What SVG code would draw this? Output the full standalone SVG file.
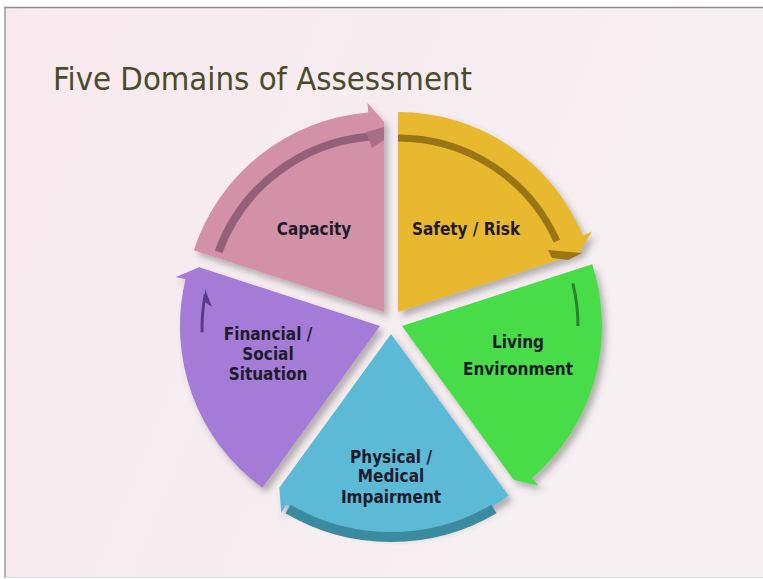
<svg xmlns="http://www.w3.org/2000/svg" width="763" height="579" viewBox="0 0 763 579">
<defs>
<linearGradient id="bg" x1="0" y1="0" x2="1" y2="0.3">
<stop offset="0" stop-color="#F8E9EE"/>
<stop offset="0.6" stop-color="#F6EDF0"/>
<stop offset="1" stop-color="#F7F1F3"/>
</linearGradient>
<filter id="sh" x="-10%" y="-10%" width="130%" height="130%">
<feDropShadow dx="4" dy="5" stdDeviation="3" flood-color="#4a4a4a" flood-opacity="0.38"/>
</filter>
<style>
.lbl{font-family:"DejaVu Sans Condensed","DejaVu Sans",sans-serif;font-stretch:condensed;font-weight:bold;font-size:17px;fill:#1E1B2C;text-anchor:middle}
.ttl{font-family:"DejaVu Sans Condensed","DejaVu Sans",sans-serif;font-stretch:condensed;font-size:32.6px;fill:#4A4A2C}
.seg{filter:url(#sh)}
.str{fill:none;stroke-linecap:butt}
</style>
</defs>
<rect x="0" y="0" width="763" height="579" fill="#FFFFFF"/>
<rect x="5" y="7" width="758" height="571" fill="url(#bg)"/>
<line x1="4" y1="7.5" x2="763" y2="7.5" stroke="#8E8E8E" stroke-width="1.5"/>
<line x1="5" y1="7" x2="5" y2="578" stroke="#9A9A9A" stroke-width="1.5"/>
<line x1="5" y1="577.5" x2="763" y2="577.5" stroke="#E2DADD" stroke-width="1"/>

<text class="ttl" x="53" y="90">Five Domains of Assessment</text>

<g id="capacity">
<path class="seg" d="M384,312 L193.8,250.2 A200,200 0 0 1 368.3,112.6 L367.5,102.7 L384,122 Z" fill="#D391A8"/>
<path class="str" d="M218.6,251.8 A176,176 0 0 1 368.7,136.7" stroke="#93607A" stroke-width="8"/>
<polygon points="366,132 384,127 384,140 372,148" fill="#A86E85"/>
<text class="lbl" x="314" y="235">Capacity</text>
</g>

<g id="safety">
<path class="seg" d="M398,312 L398,112 A200,200 0 0 1 582.8,235.5 L592,231.6 L578.7,253.3 Z" fill="#E8B82F"/>
<path class="str" d="M398,138 A174,174 0 0 1 556.9,241.2" stroke="#9A7514" stroke-width="7"/>
<polygon points="548,250 582,253 568,260 552,258" fill="#9A7514"/>
<text class="lbl" x="466" y="235">Safety / Risk</text>
</g>

<g id="living">
<path class="seg" d="M402,326 L592.2,264.2 A200,200 0 0 1 531.9,478.1 L538.4,485.7 L513.7,479.7 Z" fill="#4ADC48"/>
<path class="str" d="M572.8,283.4 A176,176 0 0 1 578,326" stroke="#2E7F2E" stroke-width="3"/>
<text class="lbl" x="518" y="348">Living</text>
<text class="lbl" x="518" y="375">Environment</text>
</g>

<g id="physical">
<path class="seg" d="M391,334 L508.6,495.8 A200,200 0 0 1 286.5,504.5 L281.3,513 L279.3,487.7 Z" fill="#5DBAD7"/>
<path class="str" d="M494,509 A203,203 0 0 1 288,509" stroke="#3A8AA0" stroke-width="10"/>
<text class="lbl" x="391" y="463">Physical /</text>
<text class="lbl" x="391" y="482">Medical</text>
<text class="lbl" x="391" y="503">Impairment</text>
</g>

<g id="financial">
<path class="seg" d="M380,326 L262.4,487.8 A200,200 0 0 1 185.5,279.3 L175.8,277 L199.3,267.3 Z" fill="#A47BD8"/>
<path class="str" d="M202.1,332.2 A178,178 0 0 1 205.3,294" stroke="#5A3A88" stroke-width="3"/>
<polygon points="205,289 212,307 205,302" fill="#5A3A88"/>
<text class="lbl" x="268" y="340">Financial /</text>
<text class="lbl" x="268" y="360">Social</text>
<text class="lbl" x="268" y="380">Situation</text>
</g>
</svg>
